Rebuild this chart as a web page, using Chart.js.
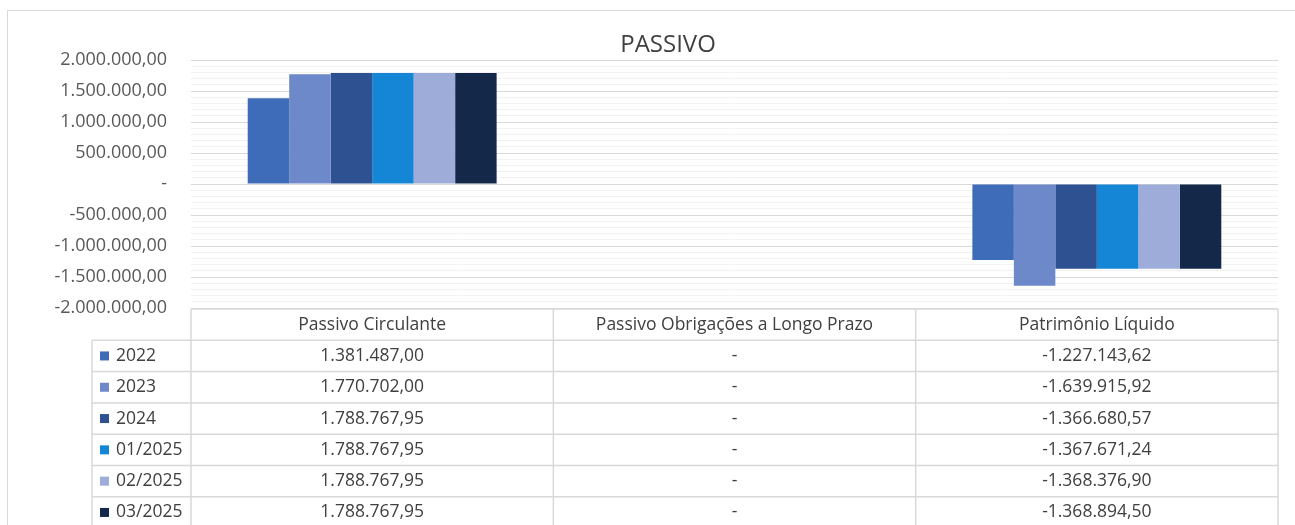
<!DOCTYPE html>
<html>
<head>
<meta charset="utf-8">
<script src="https://cdn.jsdelivr.net/npm/chart.js@4.4.1/dist/chart.umd.min.js"></script>
<style>
  html, body { margin: 0; padding: 0; background: #fff; overflow: hidden; }
  #wrap { width: 1295px; height: 525px; position: relative; }
</style>
</head>
<body>
<div id="wrap"><canvas id="passivoChart"></canvas></div>
<script>
const categories = ['Passivo Circulante', 'Passivo Obrigações a Longo Prazo', 'Patrimônio Líquido'];
const periods = ['2022', '2023', '2024', '01/2025', '02/2025', '03/2025'];
const passivoCirculante = [1381487.00, 1770702.00, 1788767.95, 1788767.95, 1788767.95, 1788767.95];
const obrigacoesLongoPrazo = [0, 0, 0, 0, 0, 0];
const patrimonioLiquido = [-1227143.62, -1639915.92, -1366680.57, -1367671.24, -1368376.90, -1368894.50];
const periodColors = ['#3f6cb9', '#6d89ca', '#2e5291', '#1586d6', '#9dacd8', '#14284a'];
const chartTitle = 'PASSIVO';

function fmt(v) {
    if (Math.abs(v) < 0.005) return '-';
    const neg = v < 0;
    let parts = Math.abs(v).toFixed(2).split('.');
    let intPart = parts[0].replace(/\B(?=(\d{3})+(?!\d))/g, '.');
    return (neg ? '-' : '') + intPart + ',' + parts[1];
}

const datasets = periods.map(function(p, i) {
    return {
        label: p,
        data: [passivoCirculante[i], obrigacoesLongoPrazo[i], patrimonioLiquido[i]],
        backgroundColor: periodColors[i],
        borderWidth: 0,
        barPercentage: 1,
        categoryPercentage: 0.687
    };
});

const FONT = '"Open Sans", "Noto Sans", sans-serif';

// draws the outer frame, the title and the data table under the plot
const dataTablePlugin = {
    id: 'dataTable',
    beforeDraw(chart) {
        const ctx = chart.ctx;
        ctx.save();
        ctx.strokeStyle = '#d9d9d9';
        ctx.lineWidth = 1;
        ctx.strokeRect(7.5, 10.5, 1400, 700);
        ctx.fillStyle = '#404040';
        ctx.font = '24px ' + FONT;
        ctx.textAlign = 'center';
        ctx.textBaseline = 'middle';
        ctx.fillText(chartTitle, 668, 45);
        ctx.restore();
    },
    afterDraw(chart) {
        const ctx = chart.ctx;
        const area = chart.chartArea;
        const x = chart.scales.x;
        const half = (x.getPixelForValue(1) - x.getPixelForValue(0)) / 2;
        const rowH = 31.3;
        const top = area.bottom + 1;
        const legendLeft = 92;
        const nRows = periods.length;

        ctx.save();
        ctx.strokeStyle = '#d9d9d9';
        ctx.lineWidth = 1.5;

        // horizontal lines
        ctx.beginPath();
        ctx.moveTo(area.left, top);
        ctx.lineTo(area.right, top);
        for (let r = 1; r <= nRows + 1; r++) {
            const y = top + r * rowH;
            ctx.moveTo(legendLeft, y);
            ctx.lineTo(area.right, y);
        }
        // vertical lines
        ctx.moveTo(area.left, top);
        ctx.lineTo(area.left, top + (nRows + 1) * rowH);
        ctx.moveTo(legendLeft, top + rowH);
        ctx.lineTo(legendLeft, top + (nRows + 1) * rowH);
        categories.forEach(function(c, i) {
            const xr = x.getPixelForValue(i) + half;
            ctx.moveTo(xr, top);
            ctx.lineTo(xr, top + (nRows + 1) * rowH);
        });
        ctx.stroke();

        ctx.fillStyle = '#404040';
        ctx.font = '17.5px ' + FONT;
        ctx.textBaseline = 'middle';
        ctx.textAlign = 'center';
        categories.forEach(function(c, i) {
            ctx.fillText(c, x.getPixelForValue(i), top + rowH / 2);
        });

        chart.data.datasets.forEach(function(ds, r) {
            const yc = top + (r + 1) * rowH + rowH / 2;
            ctx.fillStyle = ds.backgroundColor;
            ctx.fillRect(legendLeft + 8, yc - 4.5, 9, 9);
            ctx.fillStyle = '#404040';
            ctx.textAlign = 'left';
            ctx.fillText(ds.label, legendLeft + 24, yc);
            ctx.textAlign = 'center';
            ds.data.forEach(function(v, i) {
                ctx.fillText(fmt(v), x.getPixelForValue(i), yc);
            });
        });
        ctx.restore();
    }
};

new Chart(document.getElementById('passivoChart'), {
    type: 'bar',
    data: {
        labels: categories,
        datasets: datasets
    },
    options: {
        responsive: true,
        maintainAspectRatio: false,
        animation: false,
        layout: {
            padding: { left: 0, right: 17, top: 60, bottom: 217 }
        },
        scales: {
            x: {
                display: false,
                grid: { display: false }
            },
            y: {
                min: -2000000,
                max: 2000000,
                afterFit: function(scale) { scale.width = 191; },
                border: { display: false },
                grid: {
                    drawTicks: false,
                    color: function(ctx) {
                        return Math.round(Math.abs(ctx.tick.value)) % 500000 === 0 ? '#d9d9d9' : '#f2f2f2';
                    }
                },
                ticks: {
                    stepSize: 100000,
                    autoSkip: false,
                    padding: 24,
                    color: '#595959',
                    font: { family: FONT, size: 18 },
                    callback: function(v) {
                        return Math.round(Math.abs(v)) % 500000 === 0 ? fmt(v) : '';
                    }
                }
            }
        },
        plugins: {
            legend: { display: false },
            tooltip: { enabled: false },
            title: { display: false }
        }
    },
    plugins: [dataTablePlugin]
});
</script>
</body>
</html>
